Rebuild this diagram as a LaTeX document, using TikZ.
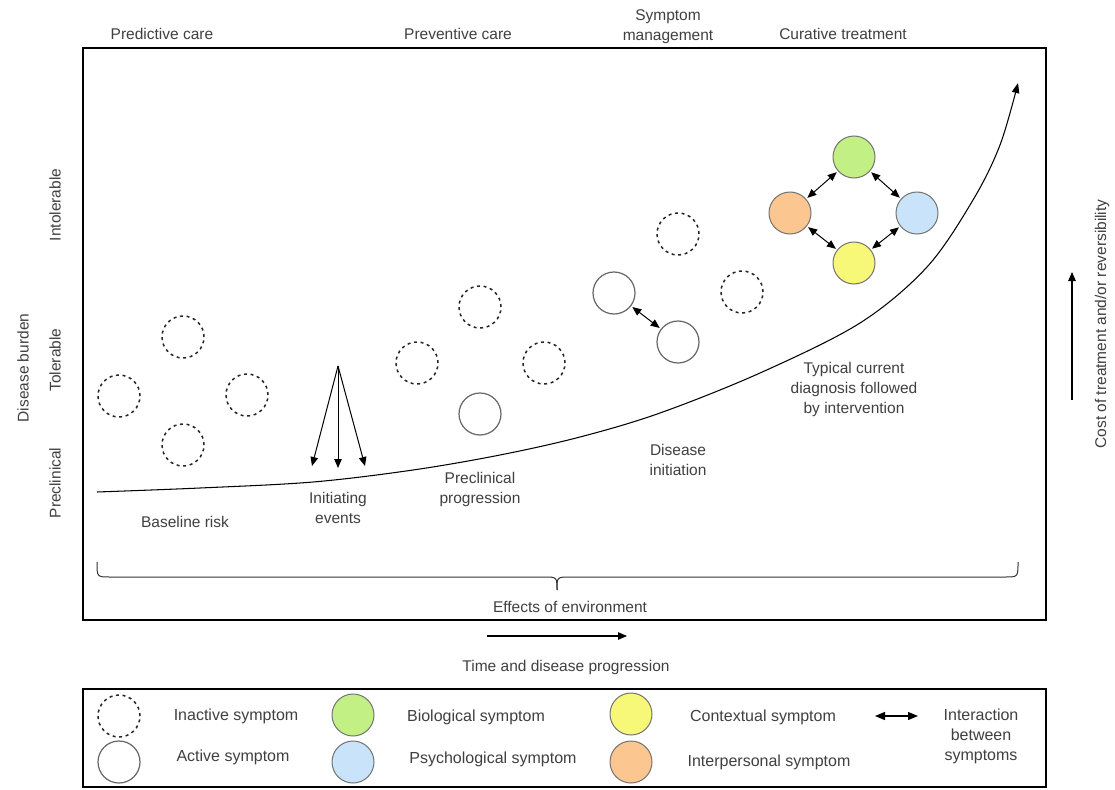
\documentclass[tikz,border=0pt]{standalone}
\usepackage{fontspec}
\setmainfont{Liberation Sans}
\usetikzlibrary{arrows.meta}
\definecolor{txt}{HTML}{404040}
\definecolor{bio}{HTML}{C2F084}
\definecolor{psy}{HTML}{C8E3FA}
\definecolor{ctx}{HTML}{F8F878}
\definecolor{ipr}{HTML}{FCC690}
\begin{document}
\begin{tikzpicture}[x=1pt,y=-1pt,
  lbl/.style={text=txt, font=\fontsize{15.5}{20}\selectfont, align=center, inner sep=0pt},
  leg/.style={text=txt, font=\fontsize{16}{20}\selectfont, align=center, inner sep=0pt},
  inactive/.style={circle, draw=black!85, line width=1.5pt, dash pattern=on 3pt off 3.6pt, minimum size=42pt, inner sep=0pt},
  active/.style={circle, draw=black!60, line width=1.2pt, minimum size=42pt, inner sep=0pt},
  sym/.style={circle, draw=black!55, line width=1pt, minimum size=42pt, inner sep=0pt, fill=#1},
  frame/.style={draw=black, line width=2.4pt},
  tip/.style={-{Triangle[length=9pt,width=7.5pt]}, line width=1pt},
  dtip/.style={{Triangle[length=9pt,width=7.5pt]}-{Triangle[length=9pt,width=7.5pt]}, line width=1pt, shorten >=1.5pt, shorten <=1.5pt}
]
\useasboundingbox (0,0) rectangle (1115,789);
\fill[white] (0,0) rectangle (1115,789);

% frames
\draw[frame] (83,48) rectangle (1046,620);
\draw[frame] (83,689) rectangle (1046,787);

% top labels
\node[lbl] (pred) at (162,34) {Predictive care};
\node[lbl] (prev) at (458,34) {Preventive care};
\node[lbl] (symm) at (668,27) {Symptom\\management};
\node[lbl] (cure) at (843,34) {Curative treatment};

% left axis
\node[lbl, rotate=90] (db) at (23,368) {Disease burden};
\node[lbl, rotate=90] (intol) at (55,205) {Intolerable};
\node[lbl, rotate=90] (tol) at (55,360) {Tolerable};
\node[lbl, rotate=90] (precl) at (55,483) {Preclinical};

% right axis
\node[lbl, rotate=90] (cost) at (1102,324) {Cost of treatment and/or reversibility};
\coordinate (cb) at (1072,400);
\coordinate (ct) at (1072,272);
\draw[tip, line width=1.1pt] (cb) -- (ct);

% curve
\draw[line width=1.05pt, -{Triangle[length=10pt,width=7.5pt]}] plot[smooth, tension=0.55] coordinates {(97,492) (200,488) (313,482) (413,470) (500,455) (580,437) (660,413) (760,373) (860,323) (927,267) (973,200) (1000,145) (1018,83)};

% inactive symptoms
\node[inactive] (i1) at (119,396) {};
\node[inactive] (i2) at (183,337) {};
\node[inactive] (i3) at (247,395) {};
\node[inactive] (i4) at (183,445) {};
\node[inactive] (i5) at (417,363) {};
\node[inactive] (i6) at (480,307) {};
\node[inactive] (i7) at (544,363) {};
\node[inactive] (i8) at (678,234) {};
\node[inactive] (i9) at (742,292) {};

% active symptoms
\node[active] (a1) at (480,414) {};
\node[active] (a2) at (614,293) {};
\node[active] (a3) at (678,342) {};
\draw[dtip] (a2) -- (a3);

% coloured symptoms
\node[sym=bio] (bio) at (854,157) {};
\node[sym=psy] (psy) at (917,213) {};
\node[sym=ctx] (ctx) at (854,263) {};
\node[sym=ipr] (ipr) at (790,213) {};
\draw[dtip] (ipr) -- (bio);
\draw[dtip] (bio) -- (psy);
\draw[dtip] (psy) -- (ctx);
\draw[dtip] (ctx) -- (ipr);

% initiating events arrows
\coordinate (apex) at (338,366);
\coordinate (e1) at (312,466);
\coordinate (e2) at (338,468);
\coordinate (e3) at (365,466);
\draw[tip] (apex) -- (e1);
\draw[tip] (apex) -- (e2);
\draw[tip] (apex) -- (e3);

% stage labels
\node[lbl] (base) at (185,522) {Baseline risk};
\node[lbl] (init) at (338,508) {Initiating\\events};
\node[lbl] (pprog) at (480,489) {Preclinical\\progression};
\node[lbl] (dinit) at (678,460) {Disease\\initiation};
\node[lbl] (typ) at (854,389) {Typical current\\diagnosis followed\\by intervention};

% brace
\draw[line width=1pt, draw=black!80] (97,562) .. controls (97,577) .. (110,577) -- (544,577) .. controls (557,577) .. (557,590);
\draw[line width=1pt, draw=black!80] (1018,562) .. controls (1018,577) .. (1005,577) -- (570,577) .. controls (557,577) .. (557,590);
\node[lbl] (env) at (570,607) {Effects of environment};

% time arrow
\coordinate (t0) at (487,636);
\coordinate (t1) at (627,636);
\draw[tip, line width=1.1pt] (t0) -- (t1);
\node[lbl] (time) at (566,667) {Time and disease progression};

% legend
\node[inactive] (li) at (119,716) {};
\node[active] (la) at (119,762) {};
\node[leg] (lit) at (236,716) {Inactive symptom};
\node[leg] (lat) at (233,757) {Active symptom};
\node[sym=bio] (lb) at (353,715) {};
\node[sym=psy] (lp) at (353,762) {};
\node[leg] (lbt) at (476,717) {Biological symptom};
\node[leg] (lpt) at (493,759) {Psychological symptom};
\node[sym=ctx] (lc) at (631,714) {};
\node[sym=ipr] (lo) at (631,762) {};
\node[leg] (lct) at (763,717) {Contextual symptom};
\node[leg] (lot) at (769,762) {Interpersonal symptom};
\coordinate (la0) at (875,716);
\coordinate (la1) at (918,716);
\draw[{Triangle[length=10pt,width=8pt]}-{Triangle[length=10pt,width=8pt]}, line width=1.2pt] (la0) -- (la1);
\node[leg] (lxt) at (981,736) {Interaction\\between\\symptoms};
\end{tikzpicture}
\end{document}
